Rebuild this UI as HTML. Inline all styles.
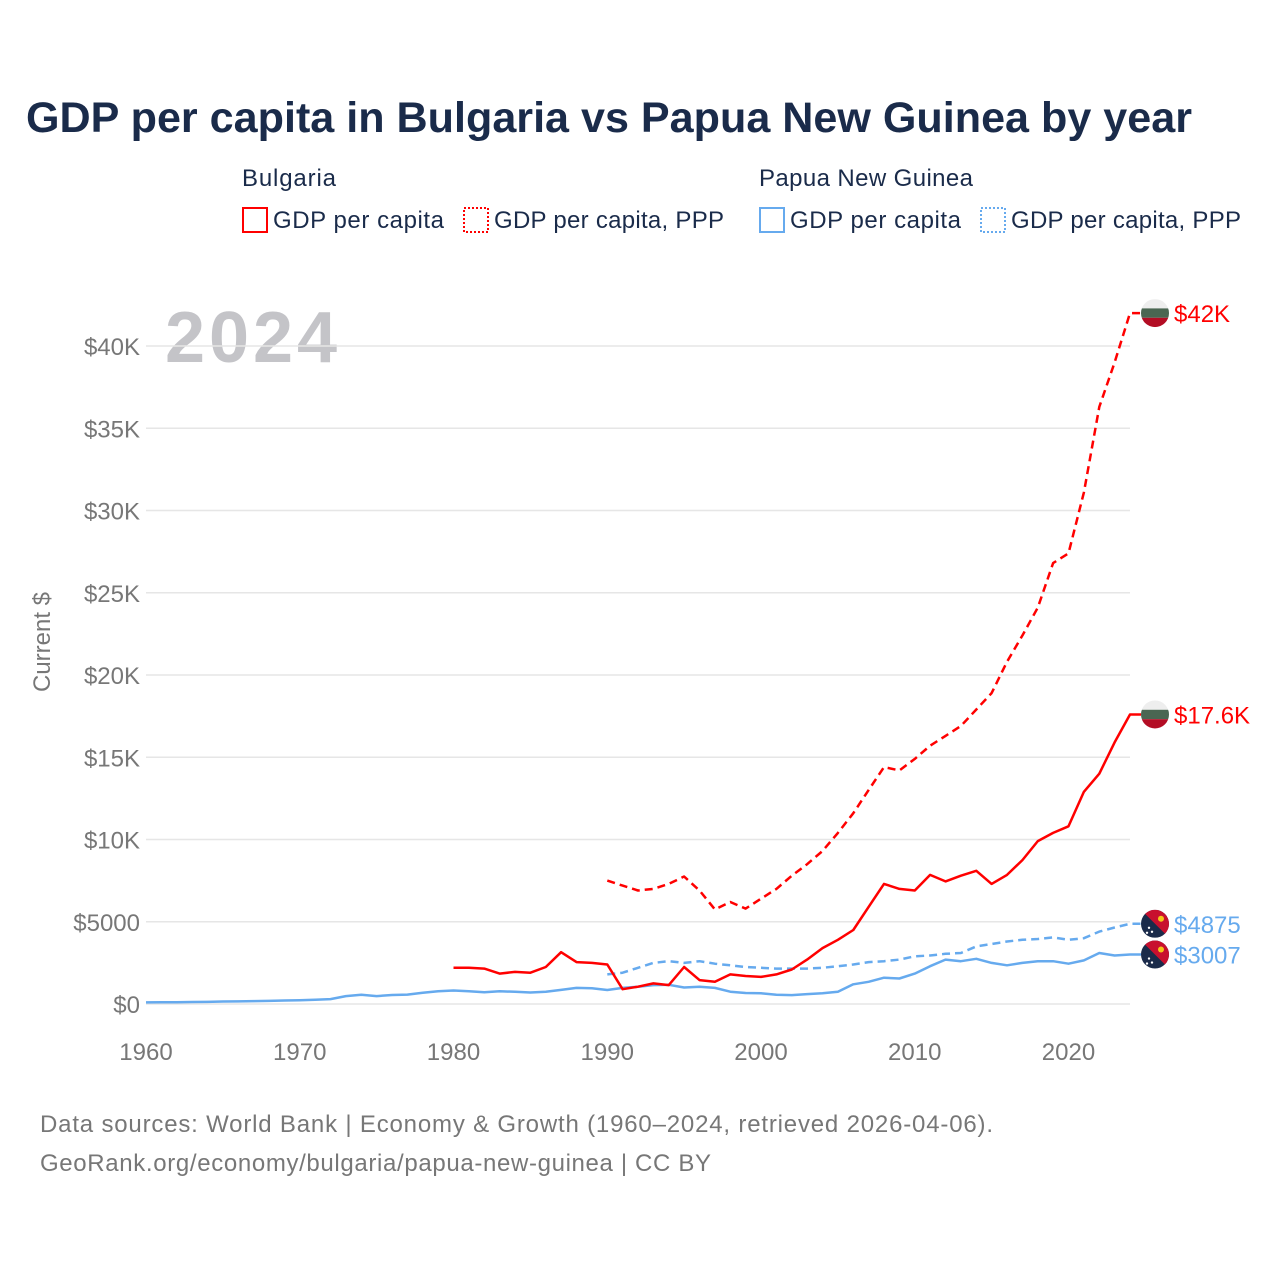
<!DOCTYPE html>
<html><head><meta charset="utf-8">
<style>
body{margin:0;background:#fff;width:1280px;height:1280px;overflow:hidden;font-family:"Liberation Sans",sans-serif;}
svg text{font-family:"Liberation Sans",sans-serif;}
</style></head>
<body>
<svg id="chart" width="1280" height="1280" viewBox="0 0 1280 1280">
<defs><clipPath id="flagclip"><circle cx="0" cy="0" r="14"/></clipPath></defs>
<text x="26" y="132" font-size="43" font-weight="bold" fill="#1a2b4a" textLength="1166" lengthAdjust="spacingAndGlyphs">GDP per capita in Bulgaria vs Papua New Guinea by year</text>
<g>
<text x="242" y="186" font-size="24" fill="#1a2b4a" textLength="94">Bulgaria</text>
<rect x="243" y="208" width="24" height="24" fill="none" stroke="#ff0000" stroke-width="2"/>
<text x="273" y="228" font-size="24" fill="#1a2b4a" textLength="171">GDP per capita</text>
<rect x="464" y="208" width="24" height="24" fill="none" stroke="#ff0000" stroke-width="2" stroke-dasharray="2,2"/>
<text x="494" y="228" font-size="24" fill="#1a2b4a" textLength="230">GDP per capita, PPP</text>
<text x="759" y="186" font-size="24" fill="#1a2b4a" textLength="214">Papua New Guinea</text>
<rect x="760" y="208" width="24" height="24" fill="none" stroke="#66aaee" stroke-width="2"/>
<text x="790" y="228" font-size="24" fill="#1a2b4a" textLength="171">GDP per capita</text>
<rect x="981" y="208" width="24" height="24" fill="none" stroke="#66aaee" stroke-width="2" stroke-dasharray="2,2"/>
<text x="1011" y="228" font-size="24" fill="#1a2b4a" textLength="230">GDP per capita, PPP</text>
</g>
<text x="165" y="362" font-size="72" font-weight="bold" fill="#c4c4c8" textLength="172">2024</text>
<text transform="translate(50,642) rotate(-90)" text-anchor="middle" font-size="24" fill="#777">Current $</text>
<g id="grid"></g><g id="series"></g><g id="ends"></g>
<text x="40" y="1132" font-size="24" fill="#777" textLength="953">Data sources: World Bank | Economy &amp; Growth (1960–2024, retrieved 2026-04-06).</text>
<text x="40" y="1171" font-size="24" fill="#777" textLength="671">GeoRank.org/economy/bulgaria/papua-new-guinea | CC BY</text>
</svg>
<script>
const yTicks=[0,5000,10000,15000,20000,25000,30000,35000,40000];
const yTickLabels=["$0","$5000","$10K","$15K","$20K","$25K","$30K","$35K","$40K"];
const xTicks=[1960,1970,1980,1990,2000,2010,2020];
const bgGdpYears=[1980,1981,1982,1983,1984,1985,1986,1987,1988,1989,1990,1991,1992,1993,1994,1995,1996,1997,1998,1999,2000,2001,2002,2003,2004,2005,2006,2007,2008,2009,2010,2011,2012,2013,2014,2015,2016,2017,2018,2019,2020,2021,2022,2023,2024];
const bgGdp=[2200,2200,2150,1850,1950,1900,2250,3150,2550,2500,2400,900,1050,1250,1150,2250,1450,1350,1800,1700,1650,1800,2100,2700,3400,3900,4500,5900,7300,7000,6900,7850,7450,7800,8100,7300,7850,8750,9900,10400,10800,12900,14000,15900,17600];
const pppYears=[1990,1991,1992,1993,1994,1995,1996,1997,1998,1999,2000,2001,2002,2003,2004,2005,2006,2007,2008,2009,2010,2011,2012,2013,2014,2015,2016,2017,2018,2019,2020,2021,2022,2023,2024];
const bgPpp=[7500,7200,6900,7000,7300,7750,6900,5750,6200,5800,6400,7000,7800,8500,9300,10400,11600,13000,14400,14200,14900,15700,16300,16900,17900,18900,20800,22400,24100,26800,27400,31100,36300,39000,42000];
const pngGdpYears=[1960,1961,1962,1963,1964,1965,1966,1967,1968,1969,1970,1971,1972,1973,1974,1975,1976,1977,1978,1979,1980,1981,1982,1983,1984,1985,1986,1987,1988,1989,1990,1991,1992,1993,1994,1995,1996,1997,1998,1999,2000,2001,2002,2003,2004,2005,2006,2007,2008,2009,2010,2011,2012,2013,2014,2015,2016,2017,2018,2019,2020,2021,2022,2023,2024];
const pngGdp=[100,105,110,120,130,150,160,175,190,210,230,260,300,480,560,480,550,570,680,780,820,780,720,780,740,700,740,860,980,960,850,980,1050,1150,1170,1000,1050,980,750,670,650,560,540,600,650,750,1200,1350,1600,1550,1850,2300,2700,2600,2750,2500,2350,2500,2600,2600,2450,2650,3100,2950,3007];
const pngPpp=[1800,1900,2200,2500,2600,2500,2600,2450,2350,2250,2200,2150,2150,2150,2200,2300,2400,2550,2600,2700,2900,2950,3050,3100,3500,3650,3800,3900,3950,4050,3900,4000,4400,4650,4875];
const endLabels=["$42K","$17.6K","$4875","$3007"];

const NS="http://www.w3.org/2000/svg";
const X0=146,X1=1130,Y0=1004;
const xs=y=>X0+(y-1960)*(X1-X0)/64;
const ys=v=>Y0-v*(Y0-346)/40000;
function mk(tag,attrs,parent){const e=document.createElementNS(NS,tag);for(const k in attrs)e.setAttribute(k,attrs[k]);parent.appendChild(e);return e;}
const grid=document.getElementById('grid');
yTicks.forEach((t,i)=>{
  const l=mk('line',{x1:X0,x2:X1,y1:ys(t),y2:ys(t),stroke:'#e6e6e6','stroke-width':1.5},grid);
  
  
  const tx=mk('text',{x:140,y:ys(t)+9,'text-anchor':'end','font-size':24,fill:'#777'},grid);
  tx.textContent=yTickLabels[i];
  
  
});
xTicks.forEach(t=>{
  const tx=mk('text',{x:xs(t),y:1060,'text-anchor':'middle','font-size':24,fill:'#777'},grid);
  tx.textContent=t;
  
  
});
const sg=document.getElementById('series');
function line(years,vals,color,dash,name){
  let pts=years.map((y,i)=>xs(y).toFixed(1)+','+ys(vals[i]).toFixed(1));
  pts.push((X1+11)+','+ys(vals[vals.length-1]).toFixed(1));
  const p=mk('polyline',{points:pts.join(' '),fill:'none',stroke:color,'stroke-width':2.5,'stroke-linejoin':'round'},sg);
  if(dash)p.setAttribute('stroke-dasharray',dash);
  
  
}
line(pngGdpYears,pngGdp,'#66aaee',null,'line-png-gdp');
line(pppYears,pngPpp,'#66aaee','8,5','line-png-ppp');
line(bgGdpYears,bgGdp,'#ff0000',null,'line-bg-gdp');
line(pppYears,bgPpp,'#ff0000','8,5','line-bg-ppp');
const eg=document.getElementById('ends');
const ends=[[bgPpp[bgPpp.length-1],'bg','#ff0000'],[bgGdp[bgGdp.length-1],'bg','#ff0000'],[pngPpp[pngPpp.length-1],'png','#66aaee'],[pngGdp[pngGdp.length-1],'png','#66aaee']];
ends.forEach((e,i)=>{
  const y=ys(e[0]);
  const g=mk('g',{transform:`translate(1155,${y})`},eg);
  
  
  const inner=mk('g',{'clip-path':'url(#flagclip)'},g);
  if(e[1]==='bg'){
    mk('rect',{x:-14,y:-14,width:28,height:9.3,fill:'#eeeeee'},inner);
    mk('rect',{x:-14,y:-4.7,width:28,height:9.4,fill:'#4a6652'},inner);
    mk('rect',{x:-14,y:4.7,width:28,height:9.3,fill:'#b30d24'},inner);
  }else{
    mk('rect',{x:-14,y:-14,width:28,height:28,fill:'#1a2b4a'},inner);
    mk('path',{d:'M-14 -14 L14 -14 L14 14 Z',fill:'#c8102e'},inner);
    mk('circle',{cx:6,cy:-5,r:3,fill:'#f5c518'},inner);
    mk('circle',{cx:-6,cy:4,r:1.2,fill:'#fff'},inner);
    mk('circle',{cx:-3,cy:8,r:1.2,fill:'#fff'},inner);
    mk('circle',{cx:-8,cy:9,r:1.2,fill:'#fff'},inner);
  }
  const t=mk('text',{x:1174,y:y+9,'font-size':24,fill:e[2]},eg);
  t.textContent=endLabels[i];
  
  
});
</script>
</body></html>
